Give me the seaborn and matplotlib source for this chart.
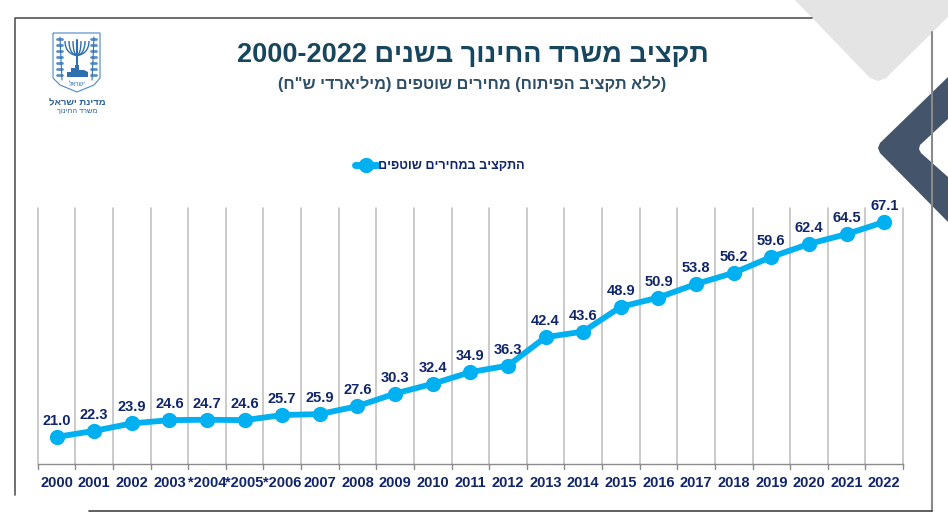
import matplotlib
matplotlib.use('Agg')
import matplotlib.pyplot as plt
from matplotlib.patches import Polygon, PathPatch
from matplotlib.path import Path
import pandas as pd
import seaborn as sns

years = ['2000', '2001', '2002', '2003', '*2004', '*2005', '*2006', '2007', '2008', '2009', '2010', '2011',
         '2012', '2013', '2014', '2015', '2016', '2017', '2018', '2019', '2020', '2021', '2022']
budget = [21.0, 22.3, 23.9, 24.6, 24.7, 24.6, 25.7, 25.9, 27.6, 30.3, 32.4, 34.9,
          36.3, 42.4, 43.6, 48.9, 50.9, 53.8, 56.2, 59.6, 62.4, 64.5, 67.1]
title_he = 'תקציב משרד החינוך בשנים'
title_years = '2000-2022'
subtitle_he = '(ללא תקציב הפיתוח) מחירים שוטפים (מיליארדי ש"ח)'
legend_he = 'התקציב במחירים שוטפים'
logo_he = 'מדינת ישראל'
logo_sub_he = 'משרד החינוך'
shield_he = 'ישראל'

BLUE = '#00b0f0'
NAVY = '#10256a'
TEAL = '#17465f'
LOGO = '#2f72b5'


# matplotlib has no bidi, so hebrew goes in reversed and brackets get swapped
def rtl(s):
    return s[::-1].translate(str.maketrans('()', ')('))


sns.set_style('white')
plt.rcParams['font.family'] = ['Liberation Sans', 'DejaVu Sans']

fig = plt.figure(figsize=(9.48, 5.27), dpi=100)

# page decoration in pixel coordinates
bg = fig.add_axes([0, 0, 1, 1])
bg.set_xlim(0, 948)
bg.set_ylim(527, 0)
bg.axis('off')
bg.plot([15, 15, 812], [495, 18, 18], color='#555555', lw=1.2)
bg.plot([932, 932], [32, 511], color='#8a8a8a', lw=1.5)
bg.plot([89, 932], [511, 511], color='#444444', lw=1.2)
bg.add_patch(Polygon([(795, 0), (948, 0), (948, 17), (886, 78), (878, 81), (870, 78)], color='#e4e4e4', lw=0))
bg.add_patch(Polygon([(948, 77), (948, 119), (920, 145), (919, 149), (921, 153), (948, 177), (948, 222), (880, 153), (878, 148), (880, 143)],
                     color='#44546a', lw=0))

# small emblem
shield = Path([(53, 33), (100, 33), (100, 78), (94, 85), (77, 92), (60, 85), (53, 78), (53, 33)])
bg.add_patch(PathPatch(shield, facecolor='white', edgecolor='#4a8ac6', lw=0.8))
for stem_x, sign in [(60, 1), (94, -1)]:
    bg.plot([stem_x, stem_x + sign, stem_x + 2 * sign], [37, 60, 80], color=LOGO, lw=0.8)
    for leaf_y in range(39, 80, 6):
        bg.plot([stem_x - 2.5, stem_x + 2.5], [leaf_y, leaf_y], color=LOGO, lw=2, alpha=0.8)
for half in [4, 8, 12]:
    bg.add_patch(PathPatch(Path([(77 - half, 41), (77 - half, 60), (77 + half, 60), (77 + half, 41)],
                                [Path.MOVETO, Path.CURVE4, Path.CURVE4, Path.CURVE4]),
                           facecolor='none', edgecolor='#2f6fb0', lw=1))
bg.plot([77, 77], [40, 66], color='#2f6fb0', lw=1.5)
bg.add_patch(Polygon([(67, 77), (67, 72), (71, 72), (71, 68), (75, 68), (75, 65), (79, 65), (79, 70), (84, 70), (88, 72), (88, 77)],
                     color='#2f6fb0', lw=0))
bg.text(77, 84, rtl(shield_he), ha='center', va='center', fontsize=4.5, color=LOGO)
bg.text(77, 103, rtl(logo_he), ha='center', va='center', fontsize=6.8, fontweight='bold', color='#2a5f96')
bg.text(77, 111, rtl(logo_sub_he), ha='center', va='center', fontsize=5.3, color='#2a5f96')

bg.text(472.5, 55, title_years + ' ' + rtl(title_he), ha='center', va='center', fontsize=19.5, fontweight='bold', color=TEAL)
bg.text(472.5, 83.5, rtl(subtitle_he), ha='center', va='center', fontsize=11.7, fontweight='bold', color='#2f4f66')

# legend drawn by hand so the marker sits tight on the text
bg.plot([355, 377], [165, 165], color=BLUE, lw=5)
bg.plot([366], [165], 'o', color=BLUE, ms=11, mew=0)
bg.text(378, 166, rtl(legend_he), ha='left', va='center', fontsize=9.1, fontweight='bold', color=NAVY)

# chart
ax = fig.add_axes([37.7 / 948, 1 - 464 / 527, (903 - 37.7) / 948, (464 - 208) / 527])
ax.patch.set_alpha(0)
df = pd.DataFrame({'year': years, 'budget': budget})
sns.lineplot(data=df, x='year', y='budget', ax=ax, color=BLUE, lw=4.2, marker='o', markersize=11,
             markeredgewidth=0, sort=False, errorbar=None)
ax.set_xlim(-0.5, len(years) - 0.5)
ax.set_ylim(15.2, 70.1)
ax.set_xlabel('')
ax.set_ylabel('')
ax.set_yticks([])
for s in ['top', 'right', 'left']:
    ax.spines[s].set_visible(False)
ax.spines['bottom'].set_color('#8c8c8c')
ax.spines['bottom'].set_linewidth(1)

for i in range(len(years) + 1):
    ax.axvline(i - 0.5, color='#bcbcbc', lw=1.1, zorder=0, clip_on=False)
    ax.plot([i - 0.5, i - 0.5], [15.2, 14.2], color='#8c8c8c', lw=1, clip_on=False)

ax.set_xticks(range(len(years)))
ax.set_xticklabels(years, fontsize=10.5, fontweight='bold', color=NAVY)
ax.tick_params(axis='x', length=0, pad=8.5)

for i, v in enumerate(budget):
    ax.annotate(f'{v:.1f}', (i, v), xytext=(0, 6.5), textcoords='offset points', ha='center', va='bottom',
                fontsize=10.5, fontweight='bold', color=NAVY)

fig.savefig('out.png', dpi=100, facecolor='white')
